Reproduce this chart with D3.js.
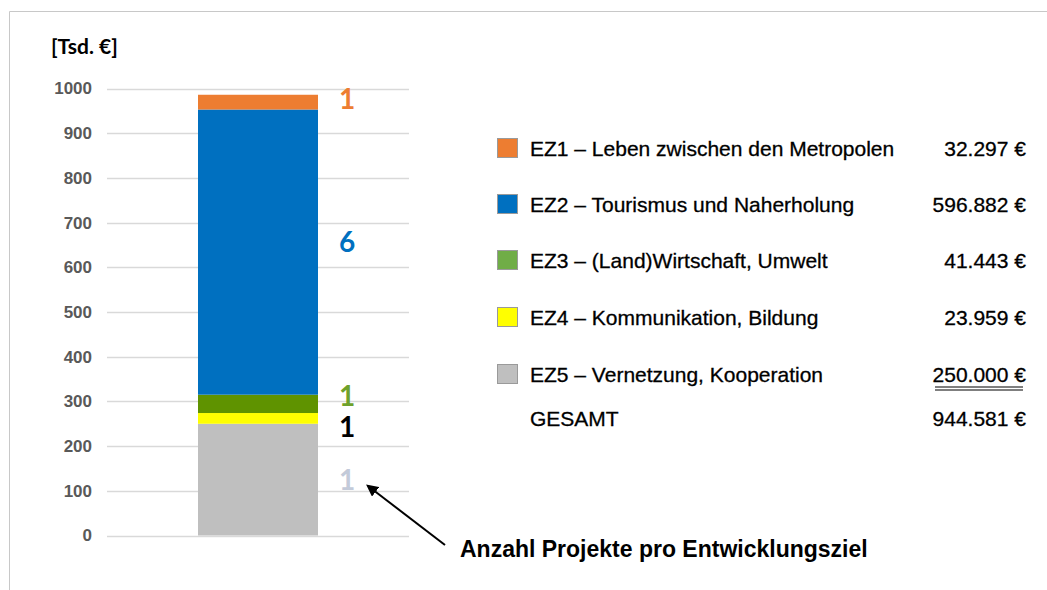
<!DOCTYPE html>
<html>
<head>
<meta charset="utf-8">
<script src="https://cdn.jsdelivr.net/npm/d3@7"></script>
<style>
  body { margin: 0; background: #fff; }
  svg { display: block; }
</style>
</head>
<body>
<div id="chart"></div>
<script>
// segments from bottom to top, as drawn in the bar [Tsd. €]
const goals = ["EZ5", "EZ4", "EZ3", "EZ2", "EZ1"];
const barValues = [250, 24, 41, 638, 33];
const projectCounts = [1, 1, 1, 6, 1];
const barColors = ["#bfbfbf", "#ffff00", "#5f9300", "#0070c0", "#ed7d31"];
const countColors = ["#c3cad9", "#000000", "#6ea12b", "#0070c0", "#ed7d31"];

// legend rows, top to bottom
const legendLabels = [
    "EZ1 – Leben zwischen den Metropolen",
    "EZ2 – Tourismus und Naherholung",
    "EZ3 – (Land)Wirtschaft, Umwelt",
    "EZ4 – Kommunikation, Bildung",
    "EZ5 – Vernetzung, Kooperation"
];
const legendAmounts = ["32.297 €", "596.882 €", "41.443 €", "23.959 €", "250.000 €"];
const legendColors = ["#ed7d31", "#0070c0", "#70ad47", "#ffff00", "#bfbfbf"];
const totalLabel = "GESAMT";
const totalAmount = "944.581 €";

const yTicks = [0, 100, 200, 300, 400, 500, 600, 700, 800, 900, 1000];

const width = 1047, height = 590;

let svg = d3.select("#chart")
    .append("svg")
    .attr("width", width)
    .attr("height", height);

// frame lines (top and left)
svg.append("path")
    .attr("d", "M9.5,590 V11.5 H1047")
    .attr("fill", "none")
    .attr("stroke", "#c8c8c8")
    .attr("stroke-width", 1);

let y = d3.scaleLinear()
    .domain([0, 1000])
    .range([535.5, 88.5]);

let x = d3.scaleBand()
    .domain(["Summe"])
    .range([198, 318])
    .padding(0);

// gridlines
svg.append("g")
    .selectAll("line")
    .data(yTicks)
    .join("line")
        .attr("x1", 107)
        .attr("x2", 409)
        .attr("y1", d => Math.round(y(d)) + 0.5)
        .attr("y2", d => Math.round(y(d)) + 0.5)
        .attr("stroke", "#d9d9d9")
        .attr("stroke-width", 1.5);

// y axis labels
let yAxis = svg.append("g")
    .attr("transform", "translate(107,0)")
    .call(d3.axisLeft(y).tickValues(yTicks).tickFormat(d3.format("d")).tickSize(0).tickPadding(15));
yAxis.select(".domain").remove();
yAxis.selectAll("text")
    .attr("font-family", "'Liberation Sans', Arial, sans-serif")
    .attr("font-size", 17)
    .attr("font-weight", "bold")
    .attr("fill", "#595959");

svg.append("text")
    .attr("x", 51)
    .attr("y", 54)
    .attr("font-family", "Lato, 'Liberation Sans', sans-serif")
    .attr("font-size", 21)
    .attr("font-weight", "bold")
    .attr("fill", "#000")
    .text("[Tsd. €]");

// stacked segments
let stackData = [];
let acc = 0;
for (let i = 0; i < goals.length; i++) {
    stackData.push({ goal: goals[i], y0: acc, y1: acc + barValues[i], count: projectCounts[i], color: barColors[i], countColor: countColors[i] });
    acc += barValues[i];
}

svg.append("g")
    .selectAll("rect")
    .data(stackData)
    .join("rect")
        .attr("x", x("Summe"))
        .attr("width", x.bandwidth())
        .attr("y", d => y(d.y1))
        .attr("height", d => y(d.y0) - y(d.y1))
        .attr("fill", d => d.color);

// project counts beside the segments (two small ones nudged apart)
const nudge = { EZ3: -8, EZ4: 9, EZ2: -10, EZ1: -3 };
svg.append("g")
    .selectAll("text")
    .data(stackData)
    .join("text")
        .attr("x", x("Summe") + x.bandwidth() + 29)
        .attr("y", d => y((d.y0 + d.y1) / 2) + (nudge[d.goal] || 0))
        .attr("dy", "0.36em")
        .attr("text-anchor", "middle")
        .attr("font-family", "Lato, 'Open Sans', sans-serif")
        .attr("font-size", 28)
        .attr("font-weight", "bold")
        .attr("fill", d => d.countColor)
        .text(d => d.count);

// legend
const rowY = [149, 205, 261, 318, 375];
let legend = svg.append("g")
    .attr("font-family", "'Liberation Sans', Arial, sans-serif")
    .attr("font-size", 21)
    .attr("fill", "#000");

let rows = legend.selectAll("g")
    .data(legendLabels)
    .join("g")
        .attr("transform", (d, i) => `translate(0,${rowY[i]})`);

rows.append("rect")
    .attr("x", 497.5)
    .attr("y", -10.5)
    .attr("width", 20)
    .attr("height", 19)
    .attr("fill", (d, i) => legendColors[i])
    .attr("stroke", "#9a9a9a")
    .attr("stroke-width", 1);

rows.append("text")
    .attr("x", 530)
    .attr("dy", "0.35em")
    .attr("stroke", "#000")
    .attr("stroke-width", 0.3)
    .text(d => d);

rows.append("text")
    .attr("x", 1026)
    .attr("dy", "0.35em")
    .attr("text-anchor", "end")
    .attr("stroke", "#000")
    .attr("stroke-width", 0.3)
    .text((d, i) => legendAmounts[i]);

// double underline below the last amount
for (let off of [12, 15]) {
    legend.append("line")
        .attr("x1", 935)
        .attr("x2", 1023)
        .attr("y1", rowY[4] + off)
        .attr("y2", rowY[4] + off)
        .attr("stroke", "#000")
        .attr("stroke-width", 1.2);
}

legend.append("text")
    .attr("x", 530)
    .attr("y", 419)
    .attr("dy", "0.35em")
    .attr("stroke", "#000")
    .attr("stroke-width", 0.3)
    .text(totalLabel);

legend.append("text")
    .attr("x", 1026)
    .attr("y", 419)
    .attr("dy", "0.35em")
    .attr("text-anchor", "end")
    .attr("stroke", "#000")
    .attr("stroke-width", 0.3)
    .text(totalAmount);

// annotation with arrow
svg.append("defs").append("marker")
    .attr("id", "arrowhead")
    .attr("viewBox", "0 0 10 10")
    .attr("refX", 8)
    .attr("refY", 5)
    .attr("markerWidth", 6)
    .attr("markerHeight", 6)
    .attr("orient", "auto")
    .append("path")
        .attr("d", "M0,0 L10,5 L0,10 Z")
        .attr("fill", "#000");

svg.append("line")
    .attr("x1", 445)
    .attr("y1", 545)
    .attr("x2", 368)
    .attr("y2", 486)
    .attr("stroke", "#000")
    .attr("stroke-width", 2)
    .attr("marker-end", "url(#arrowhead)");

svg.append("text")
    .attr("x", 460)
    .attr("y", 557)
    .attr("font-family", "'Liberation Sans', Arial, sans-serif")
    .attr("font-size", 23)
    .attr("font-weight", "bold")
    .attr("fill", "#000")
    .text("Anzahl Projekte pro Entwicklungsziel");
</script>
</body>
</html>
